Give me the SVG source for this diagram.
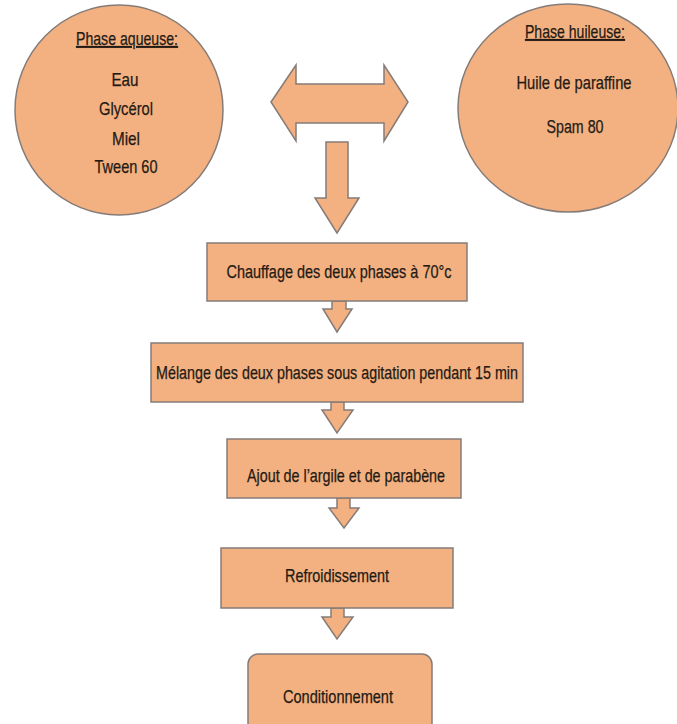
<svg xmlns="http://www.w3.org/2000/svg" width="677" height="724" viewBox="0 0 677 724">
<style>
.s{fill:#F3B080;stroke:#857c78;stroke-width:1.5}
.t{font-family:"Liberation Sans",Arial,sans-serif;font-size:19px;fill:#231a14;stroke:#231a14;stroke-width:0.25;text-anchor:middle}
.u{text-decoration:underline}
</style>
<rect width="677" height="724" fill="#ffffff"/>
<g id="phase-aqueuse">
<ellipse class="s" cx="119" cy="110" rx="104" ry="105"/>
<text class="t u" x="127" y="45" textLength="102" lengthAdjust="spacingAndGlyphs">Phase aqueuse:</text>
<text class="t" x="125" y="86" textLength="27" lengthAdjust="spacingAndGlyphs">Eau</text>
<text class="t" x="126" y="115" textLength="54" lengthAdjust="spacingAndGlyphs">Glycérol</text>
<text class="t" x="126" y="145" textLength="28" lengthAdjust="spacingAndGlyphs">Miel</text>
<text class="t" x="126" y="173" textLength="63" lengthAdjust="spacingAndGlyphs">Tween 60</text>
</g>
<g id="phase-huileuse">
<ellipse class="s" cx="568" cy="108" rx="110" ry="104"/>
<text class="t u" x="575" y="38" textLength="100" lengthAdjust="spacingAndGlyphs">Phase huileuse:</text>
<text class="t" x="574" y="89" textLength="115" lengthAdjust="spacingAndGlyphs">Huile de paraffine</text>
<text class="t" x="575" y="133" textLength="57" lengthAdjust="spacingAndGlyphs">Spam 80</text>
</g>
<g id="connectors">
<path class="s" d="M271,102 L296,65 L296,84 L384,84 L384,65 L408,102 L384,141 L384,123 L296,123 L296,141 Z"/>
<path class="s" d="M326,142 L348,142 L348,198 L359,198 L337,233 L315,198 L326,198 Z"/>
<path class="s" d="M332,301 L346,301 L346,309 L352,309 L337,332 L323,309 L332,309 Z"/>
<path class="s" d="M331,402 L344,402 L344,410 L353,410 L337,433 L322,410 L331,410 Z"/>
<path class="s" d="M337,498 L350,498 L350,508 L359,508 L344,528 L329,508 L337,508 Z"/>
<path class="s" d="M331,608 L344,608 L344,617 L353,617 L337,639 L322,617 L331,617 Z"/>
</g>
<g id="chauffage">
<rect class="s" x="207" y="243" width="260" height="58"/>
<text class="t" x="339" y="278" textLength="225" lengthAdjust="spacingAndGlyphs">Chauffage des deux phases à 70°c</text>
</g>
<g id="melange">
<rect class="s" x="151" y="343" width="372" height="59"/>
<text class="t" x="337" y="379" textLength="362" lengthAdjust="spacingAndGlyphs">Mélange des deux phases sous agitation pendant 15 min</text>
</g>
<g id="ajout">
<rect class="s" x="227" y="439" width="234" height="59"/>
<text class="t" x="346" y="482" textLength="198" lengthAdjust="spacingAndGlyphs">Ajout de l’argile et de parabène</text>
</g>
<g id="refroidissement">
<rect class="s" x="221" y="548" width="232" height="60"/>
<text class="t" x="337" y="582" textLength="104" lengthAdjust="spacingAndGlyphs">Refroidissement</text>
</g>
<g id="conditionnement">
<rect class="s" x="248" y="654" width="184" height="80" rx="10" ry="10"/>
<text class="t" x="338" y="703" textLength="110" lengthAdjust="spacingAndGlyphs">Conditionnement</text>
</g>
</svg>
